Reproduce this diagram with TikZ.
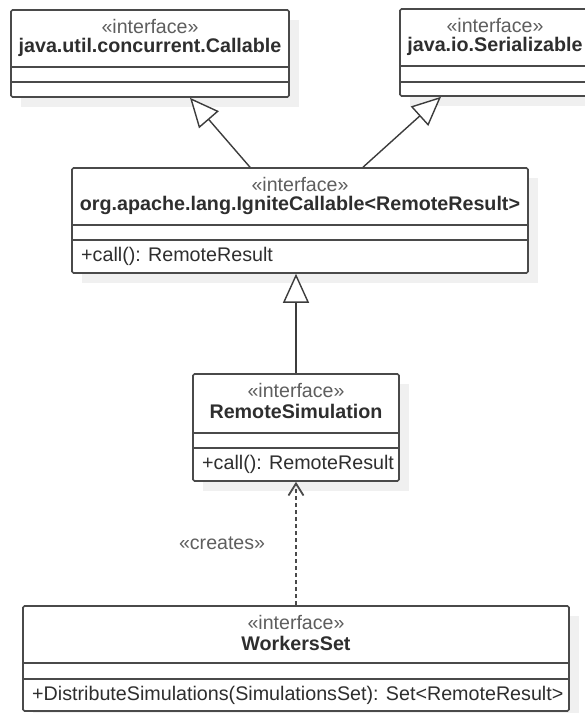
\documentclass[tikz,border=0pt]{standalone}
\usepackage{fontspec}
\setmainfont{Liberation Sans}
\usepackage{xcolor}
\usepackage{tikz}
\usetikzlibrary{arrows.meta,positioning}

\definecolor{boxline}{HTML}{4A4A4A}
\definecolor{shade}{HTML}{F0F0F0}
\definecolor{stereogray}{HTML}{5E5E5E}
\definecolor{textdark}{HTML}{2E2E2E}
\definecolor{linegray}{HTML}{3C3C3C}

\begin{document}
\begin{tikzpicture}[x=1pt,y=-1pt,
  classbox/.style={draw=boxline,line width=1.6pt,fill=white,rounded corners=1.5pt,inner sep=0pt},
  shadowbox/.style={fill=shade},
  boxrule/.style={draw=boxline,line width=1.6pt},
  stereo/.style={text=stereogray,font=\fontsize{19.6}{22}\selectfont,inner sep=0pt},
  classname/.style={text=textdark,font=\bfseries\fontsize{19.7}{22}\selectfont,inner sep=0pt},
  member/.style={text=textdark,font=\fontsize{19.7}{22}\selectfont,inner sep=0pt,anchor=west},
  realize/.style={draw=linegray,line width=1.4pt,-{Triangle[fill=white,length=29pt,width=26pt]}},
  creates/.style={draw=boxline,line width=1.8pt,dash pattern=on 4pt off 3pt,-{Straight Barb[length=12pt,width=15pt]}}]
\useasboundingbox (0,0) rectangle (585,713);
% class boxes: name/left/top/right/bottom/first rule/second rule/title/operation
\foreach \n/\l/\t/\r/\b/\sa/\sb/\nm/\op in {
  callable/11/10/289/97/67/82/{java.util.concurrent.Callable}/{},
  serializable/400/9/590/96/66/82/{java.io.Serializable}/{},
  ignite/72/168/528/273/225/240/{org.apache.lang.IgniteCallable<RemoteResult>}/{+call(): RemoteResult},
  remotesim/193/374/399/481/433/448/{RemoteSimulation}/{+call(): RemoteResult},
  workers/23/606/569/711/663/679/{WorkersSet}/{+DistributeSimulations(SimulationsSet): Set<RemoteResult>}
} {
  \fill[shadowbox] (\l+10,\t+10) rectangle (\r+10,\b+10);
  \node[classbox,minimum width={(\r-\l)*1pt},minimum height={(\b-\t)*1pt}] (\n) at ({(\l+\r)/2},{(\t+\b)/2}) {};
  \draw[boxrule] (\l,\sa) -- (\r,\sa);
  \draw[boxrule] (\l,\sb) -- (\r,\sb);
  \node[stereo] (\n-st) at ([yshift=-17.5pt]\n.north) {«interface»};
  \node[classname] (\n-nm) at ([yshift=-38.5pt]\n.north) {\nm};
  \node[member] (\n-op) at (\l+9,\sb+16) {\op};
}
% generalisations
\draw[realize] ([xshift=-50pt]ignite.north) -- ([xshift=40pt]callable.south);
\draw[realize] ([xshift=63pt]ignite.north) -- ([xshift=-54pt]serializable.south);
\draw[realize] (remotesim.north) -- (remotesim.north |- ignite.south);
% dependency
\draw[creates] (workers.north) -- node[stereo,left=30pt] (createslbl) {«creates»} (workers.north |- remotesim.south);
\end{tikzpicture}
\end{document}
